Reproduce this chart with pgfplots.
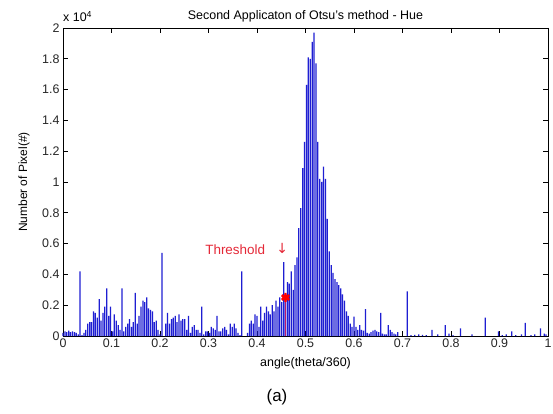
\documentclass[border=0pt]{standalone}
\usepackage{pgfplots}
\pgfplotsset{compat=1.18}
\usepackage{pgfplotstable}
\usepackage{fontspec}
\setmainfont{Liberation Sans}
\newfontfamily\symfont{DejaVu Sans}
\definecolor{barblue}{RGB}{30,30,210}
\definecolor{thr}{RGB}{228,40,55}
\definecolor{thrbar}{RGB}{190,20,110}

\pgfplotstableread{
i y
0 200
1 300
2 250
3 350
4 250
5 300
6 250
7 200
8 100
9 4200
10 50
11 200
12 400
13 800
14 900
15 900
16 1600
17 1500
18 1200
19 2400
20 1000
21 1500
22 1900
23 3100
24 1300
25 1900
26 300
27 1400
28 1000
29 700
30 400
31 3100
32 300
33 600
34 800
35 1100
36 600
37 900
38 2800
39 800
40 1300
41 1900
42 2300
43 2200
44 2500
45 1800
46 1700
47 1600
48 900
49 1000
50 400
51 100
52 5400
54 800
55 1500
56 800
57 1100
58 1200
59 1300
60 900
61 1400
62 1000
63 1100
64 1100
65 400
66 1300
67 200
68 600
69 700
70 400
71 400
72 200
73 1900
74 100
75 300
76 300
77 200
78 600
79 500
80 400
81 1300
82 300
83 300
84 500
85 600
86 400
87 100
88 800
89 600
90 800
91 500
92 200
93 50
94 4200
97 200
98 800
99 1000
100 800
101 1400
102 1300
103 600
104 1900
105 1000
106 1500
107 1900
108 1600
109 1400
110 2000
111 1600
112 2300
113 1900
114 2500
115 2200
116 4800
117 2500
118 3500
119 3400
120 4200
121 3000
122 4600
123 5100
124 7000
125 8300
126 10900
127 12600
128 16300
129 18100
130 18000
131 19100
132 19700
133 17700
134 12600
135 10200
136 10000
137 11000
138 10200
139 7600
140 5500
141 4600
142 4100
143 3700
144 3500
145 3300
146 3100
147 2700
148 2300
149 1600
150 1300
151 800
152 600
153 1250
154 600
155 400
156 700
157 400
158 350
159 1750
160 200
161 150
162 250
163 350
164 400
165 300
166 250
167 1500
168 150
169 100
170 100
171 700
172 400
173 250
174 150
175 100
176 250
181 2900
183 50
185 80
187 100
189 80
191 50
194 400
197 100
201 700
203 150
205 50
209 500
215 100
222 1200
229 300
231 50
233 100
236 300
238 50
241 100
243 850
246 50
248 100
251 500
253 150
254 100
}\histdata

\begin{document}
\begin{tikzpicture}
\path[use as bounding box] (-63bp,-78bp) rectangle (490bp,336bp);
\begin{axis}[
  at={(0,0)}, anchor=south west,
  scale only axis, width=485bp, height=308bp,
  xmin=0, xmax=1, ymin=0, ymax=20000,
  xtick={0,0.1,0.2,0.3,0.4,0.5,0.6,0.7,0.8,0.9,1},
  xticklabels={0,0.1,0.2,0.3,0.4,0.5,0.6,0.7,0.8,0.9,1},
  ytick={0,2000,4000,6000,8000,10000,12000,14000,16000,18000,20000},
  yticklabels={0,0.2,0.4,0.6,0.8,1,1.2,1.4,1.6,1.8,2},
  scaled y ticks=false,
  tick align=inside,
  major tick length=5bp,
  axis line style={line width=0.6bp},
  tick style={black, line width=0.6bp},
  ticklabel style={font=\fontsize{12.5}{14}\selectfont, text=black!85},
  xticklabel style={yshift=1bp},
  /pgf/number format/assume math mode=true,
  title={Second Applicaton of Otsu's method - Hue},
  title style={at={(axis description cs:0.5,1)}, anchor=center, yshift=6bp, font=\fontsize{12.5}{14}\selectfont},
  xlabel={angle(theta/360)},
  xlabel style={at={(axis description cs:0.5,0)}, anchor=center, yshift=-27bp, font=\fontsize{12.5}{14}\selectfont},
  ylabel={Number of Pixel(\#)},
  ylabel style={at={(axis description cs:-0.0804,0.5)}, anchor=center, font=\fontsize{12}{14}\selectfont},
  clip=false,
]
\addplot[ybar, bar width=1.25bp, bar shift=0pt, fill=barblue, draw=none]
  table[x expr=\thisrow{i}/255, y=y] {\histdata};
\addplot[ycomb, color=thrbar, line width=1.2bp, mark=none]
  coordinates {(0.4588,2500)};
\addplot[only marks, color=red, mark=asterisk, mark size=4.5bp, line width=2.4bp]
  coordinates {(0.4588,2500)};
\addplot[only marks, color=red, mark=*, mark size=3bp]
  coordinates {(0.4588,2500)};
\node[anchor=west, text=thr, font=\fontsize{13.5}{15}\selectfont, inner sep=0pt] at (axis cs:0.293,5600) {Threshold};
\node[anchor=center, text=thr, font=\symfont\fontsize{14}{16}\selectfont, inner sep=0pt] at (axis cs:0.452,5700) {↓};
\end{axis}
\node[anchor=base west, font=\fontsize{12.5}{14}\selectfont, inner sep=0pt] at (0bp,314bp) {x 10\textsuperscript{4}};
\node[font=\fontsize{17}{20}\selectfont] at (214bp,-61bp) {(a)};
\end{tikzpicture}
\end{document}
